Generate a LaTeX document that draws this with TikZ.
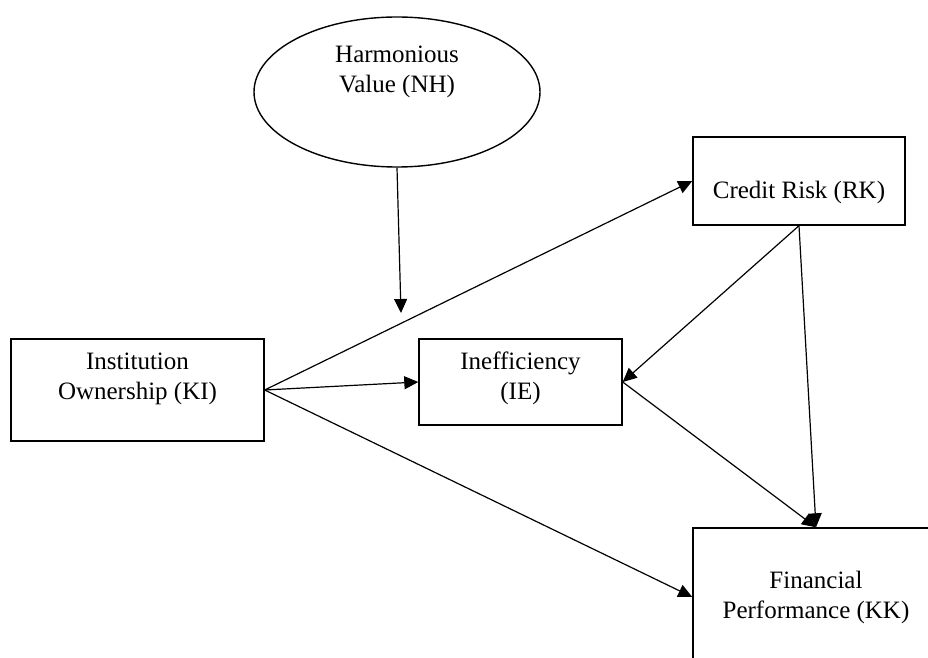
\documentclass[tikz,border=0pt]{standalone}
\usepackage{fontspec}
\setmainfont{Liberation Serif}
\usepackage{tikz}
\usetikzlibrary{arrows.meta, shapes.geometric}

\tikzset{
    var/.style={draw, line width=0.7pt, rectangle, inner sep=0pt},
    link/.style={-{Triangle[length=7pt,width=6.5pt]}, line width=0.6pt},
    every label/.append style={align=center, font=\fontsize{12.5}{15}\selectfont}
}

\begin{document}
\begin{tikzpicture}[x=0.5pt, y=-0.5pt]
        \clip (0,0) rectangle (928,658);
        \node[var, ellipse, minimum width=143pt, minimum height=75pt,
            label={[yshift=10pt]center:Harmonious\\Value (NH)}] (nh) at (397,92) {};
        \node[var, minimum width=106pt, minimum height=44pt,
            label={[yshift=-5.5pt]center:Credit Risk (RK)}] (rk) at (799,181) {};
        \node[var, minimum width=126.5pt, minimum height=51pt,
            label={[yshift=5.75pt]center:Institution\\Ownership (KI)}] (ki) at (137.5,390) {};
        \node[var, minimum width=101.5pt, minimum height=43pt,
            label={[yshift=1.75pt]center:Inefficiency\\(IE)}] (ie) at (520.5,382) {};
        \node[var, minimum width=123pt, minimum height=69pt,
            label={center:Financial\\Performance (KK)}] (kk) at (816,597) {};
        \coordinate (mod) at (401,313);

        \draw[link] (nh.south) -- (mod);
        \draw[link] (ki.east) -- (rk.west);
        \draw[link] (ki.east) -- (ie.west);
        \draw[link] (ki.east) -- (kk.west);
        \draw[link] (rk.south) -- (ie.east);
        \draw[link] (rk.south) -- (kk.north);
        \draw[link] (ie.east) -- (kk.north);
    \end{tikzpicture}
\end{document}
